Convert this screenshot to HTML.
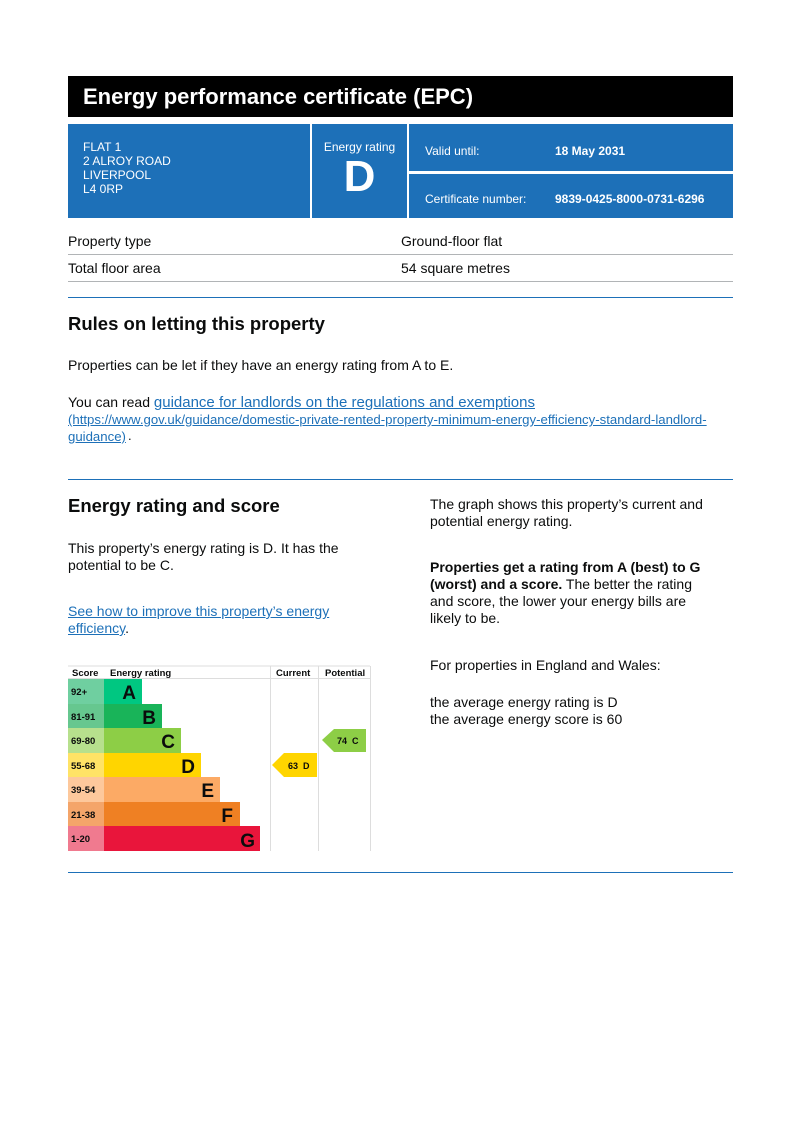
<!DOCTYPE html>
<html><head><meta charset="utf-8"><style>
*{margin:0;padding:0;box-sizing:border-box}
body{width:800px;height:1133px;background:#fff;position:relative;font-family:"Liberation Sans",Arial,sans-serif;color:#0b0c0c;overflow:hidden}
.a{position:absolute;white-space:nowrap}
.t{font-size:14px;line-height:17px}
.lnk{color:#1d70b8;text-decoration:underline}
.w{color:#fff}
.hr{position:absolute;left:68px;width:665px;height:1px;background:#1d70b8}
.g{position:absolute;left:68px;width:665px;height:1px;background:#b1b4b6}
.h2{font-size:18.5px;font-weight:bold}
</style></head><body>
<div class="a" style="left:68px;top:76px;width:665px;height:41px;background:#000"></div>
<div class="a w" style="left:83px;top:84px;font-size:22px;font-weight:bold">Energy performance certificate (EPC)</div>

<div class="a" style="left:68px;top:124px;width:242px;height:94px;background:#1d70b8"></div>
<div class="a" style="left:312px;top:124px;width:95px;height:94px;background:#1d70b8"></div>
<div class="a" style="left:409px;top:124px;width:324px;height:47px;background:#1d70b8"></div>
<div class="a" style="left:409px;top:174px;width:324px;height:44px;background:#1d70b8"></div>
<div class="a w" style="left:83px;top:140px;font-size:12px;line-height:14px">FLAT 1<br>2 ALROY ROAD<br>LIVERPOOL<br>L4 0RP</div>
<div class="a w" style="left:312px;width:95px;text-align:center;top:140px;font-size:12px">Energy rating</div>
<div class="a w" style="left:312px;width:95px;text-align:center;top:152px;font-size:44px;font-weight:bold;line-height:50px">D</div>
<div class="a w" style="left:425px;top:144px;font-size:12px">Valid until:</div>
<div class="a w" style="left:555px;top:144px;font-size:12px;font-weight:bold">18 May 2031</div>
<div class="a w" style="left:425px;top:192px;font-size:12px">Certificate number:</div>
<div class="a w" style="left:555px;top:192px;font-size:12px;font-weight:bold">9839-0425-8000-0731-6296</div>

<div class="a t" style="left:68px;top:233px">Property type</div>
<div class="a t" style="left:401px;top:233px">Ground-floor flat</div>
<div class="g" style="top:254px"></div>
<div class="a t" style="left:68px;top:260px">Total floor area</div>
<div class="a t" style="left:401px;top:260px">54 square metres</div>
<div class="g" style="top:281px"></div>

<div class="hr" style="top:297px"></div>
<div class="a h2" style="left:68px;top:313px">Rules on letting this property</div>
<div class="a t" style="left:68px;top:357px">Properties can be let if they have an energy rating from A to E.</div>
<div class="a t" style="left:68px;top:394px">You can read <span class="lnk" style="font-size:15px">guidance for landlords on the regulations and exemptions</span></div>
<div class="a lnk" style="left:68px;top:411px;font-size:13.2px;line-height:17px">(https://www.gov.uk/guidance/domestic-private-rented-property-minimum-energy-efficiency-standard-landlord-<br>guidance)</div><div class="a" style="left:128px;top:428px;font-size:13px">.</div>
<div class="hr" style="top:479px"></div>

<div class="a h2" style="left:68px;top:495px">Energy rating and score</div>
<div class="a t" style="left:68px;top:540px">This property’s energy rating is D. It has the<br>potential to be C.</div>
<div class="a t" style="left:68px;top:603px"><span class="lnk">See how to improve this property’s energy<br>efficiency</span>.</div>
<div class="a t" style="left:430px;top:496px">The graph shows this property’s current and<br>potential energy rating.</div>
<div class="a t" style="left:430px;top:559px"><b>Properties get a rating from A (best) to G<br>(worst) and a score.</b> The better the rating<br>and score, the lower your energy bills are<br>likely to be.</div>
<div class="a t" style="left:430px;top:657px">For properties in England and Wales:</div>
<div class="a t" style="left:430px;top:694px">the average energy rating is D<br>the average energy score is 60</div>

<svg class="a" style="left:0;top:0" width="800" height="1133" font-family="Liberation Sans,Arial,sans-serif" font-weight="bold">
<line x1="68" y1="666" x2="370" y2="666" stroke="#ddd"/>
<line x1="68" y1="678.5" x2="370" y2="678.5" stroke="#ddd"/>
<line x1="270.5" y1="666" x2="270.5" y2="851" stroke="#ddd"/>
<line x1="318.5" y1="666" x2="318.5" y2="851" stroke="#ddd"/>
<line x1="370.5" y1="666" x2="370.5" y2="851" stroke="#ddd"/>
<g font-size="9.5" fill="#0b0c0c">
<text x="72" y="676">Score</text><text x="110" y="676">Energy rating</text><text x="276" y="676">Current</text><text x="325" y="676">Potential</text>
</g>
<g>
<rect x="68" y="679" width="36" height="25" fill="#6fcfa0"/><rect x="104" y="679" width="38" height="25" fill="#00c781"/>
<rect x="68" y="704" width="36" height="24" fill="#66c78f"/><rect x="104" y="704" width="58" height="24" fill="#19b459"/>
<rect x="68" y="728" width="36" height="25" fill="#b7e08d"/><rect x="104" y="728" width="77" height="25" fill="#8dce46"/>
<rect x="68" y="753" width="36" height="24" fill="#ffe366"/><rect x="104" y="753" width="97" height="24" fill="#ffd500"/>
<rect x="68" y="777" width="36" height="25" fill="#fdc89c"/><rect x="104" y="777" width="116" height="25" fill="#fcaa65"/>
<rect x="68" y="802" width="36" height="24" fill="#f4a56a"/><rect x="104" y="802" width="136" height="24" fill="#ef8023"/>
<rect x="68" y="826" width="36" height="25" fill="#f07a8f"/><rect x="104" y="826" width="156" height="25" fill="#e9153b"/>
</g>
<g font-size="9.5" fill="#0b0c0c">
<text x="71" y="695">92+</text><text x="71" y="720">81-91</text><text x="71" y="744">69-80</text><text x="71" y="769">55-68</text><text x="71" y="793">39-54</text><text x="71" y="818">21-38</text><text x="71" y="842">1-20</text>
</g>
<g font-size="19" fill="#0b0c0c" text-anchor="end">
<text x="136" y="699">A</text><text x="156" y="724">B</text><text x="175" y="748">C</text><text x="195" y="773">D</text><text x="214" y="797">E</text><text x="233" y="822">F</text><text x="255" y="847">G</text>
</g>
<polygon points="272,765 284,753 317,753 317,777 284,777" fill="#ffd500"/>
<text x="288" y="769" font-size="9" fill="#0b0c0c">63</text><text x="303" y="769" font-size="9" fill="#0b0c0c">D</text>
<polygon points="322,740 334,729 366,729 366,752 334,752" fill="#8dce46"/>
<text x="337" y="744" font-size="9" fill="#0b0c0c">74</text><text x="352" y="744" font-size="9" fill="#0b0c0c">C</text>
</svg>
<div class="hr" style="top:872px"></div>
</body></html>
